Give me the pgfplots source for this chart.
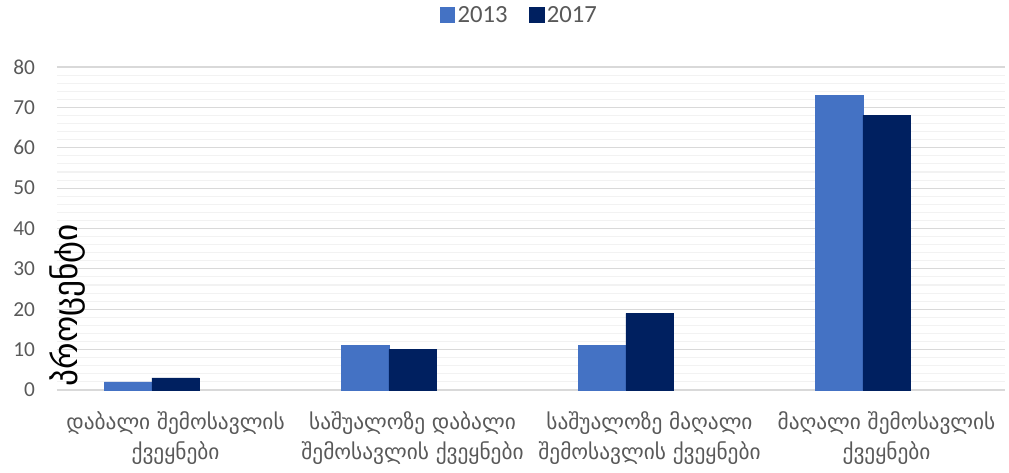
\documentclass[border=0pt]{standalone}
\usepackage{pgfplots}
\pgfplotsset{compat=1.18}
\usepackage{fontspec}
\setmainfont{Carlito}
\newfontfamily\geo{DejaVu Sans}
\definecolor{cA}{HTML}{4472C4}
\definecolor{cB}{HTML}{002060}
\definecolor{txt}{HTML}{595959}
\definecolor{gmaj}{HTML}{D9D9D9}
\definecolor{gmin}{HTML}{F2F2F2}
\begin{document}
\begin{tikzpicture}
\path[use as bounding box] (-42.75pt,-61.5pt) rectangle (714pt,292.5pt);
\begin{axis}[
  at={(0,0)}, anchor=south west,
  scale only axis,
  width=711pt, height=242.25pt,
  xmin=-0.5, xmax=3.5,
  ymin=0, ymax=80,
  ytick={0,10,...,80},
  minor y tick num=4,
  ymajorgrids, yminorgrids,
  major grid style={gmaj, line width=0.8pt},
  minor grid style={gmin, line width=0.8pt},
  axis line style={draw=none},
  major tick length=0pt, minor tick length=0pt,
  /pgf/number format/assume math mode=true,
  yticklabel style={font=\fontsize{16}{19}\selectfont, text=txt, xshift=-13pt},
  xtick={0,1,2,3},
  xticklabels={{დაბალი შემოსავლის\\ქვეყნები},{საშუალოზე დაბალი\\შემოსავლის ქვეყნები},{საშუალოზე მაღალი\\შემოსავლის ქვეყნები},{მაღალი შემოსავლის\\ქვეყნები}},
  xticklabel style={font=\geo\fontsize{16}{22.5}\selectfont, text=txt, align=center, yshift=-13pt},
  ybar, bar width=0.2,
  clip=false,
  legend style={at={(0.488,1.161)}, anchor=center, draw=none, legend columns=2,
    font=\fontsize{18.5}{22}\selectfont, text=txt,
    /tikz/every even column/.append style={column sep=14pt}},
  legend image code/.code={\fill[#1] (-3pt,-5.5pt) rectangle (8pt,5.5pt);},
]
\addplot[fill=cA, draw=cA, bar shift=-0.2] coordinates {(0,2) (1,11) (2,11) (3,73)};
\addplot[fill=cB, draw=cB, bar shift=0] coordinates {(0,3) (1,10) (2,19) (3,68)};
\legend{2013,2017}
\node[rotate=90, font=\geo\fontsize{25}{28}\selectfont, text=black] at (rel axis cs:0.011,0.263) {პროცენტი};
\end{axis}
\end{tikzpicture}
\end{document}
